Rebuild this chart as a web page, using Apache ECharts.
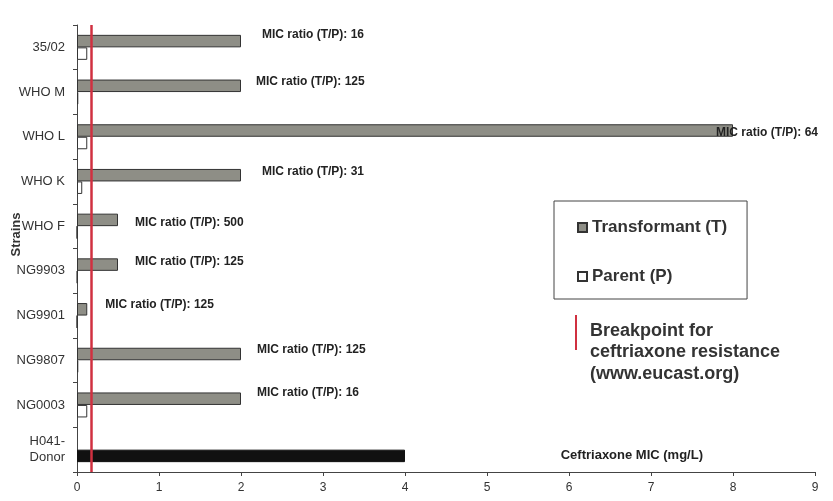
<!DOCTYPE html>
<html><head><meta charset="utf-8">
<script src="https://cdn.jsdelivr.net/npm/echarts@6/dist/echarts.min.js"></script>
<style>html,body{margin:0;padding:0;background:#fff}#c{width:833px;height:501px}</style>
</head><body><div id="c"></div>
<script>
const categories = ['35/02','WHO M','WHO L','WHO K','WHO F','NG9903','NG9901','NG9807','NG0003','H041-\nDonor'];
const transformant = [2, 2, 8, 2, 0.5, 0.5, 0.125, 2, 2, null];
const parent = [0.125, 0.016, 0.125, 0.064, 0.001, 0.004, 0.001, 0.016, 0.125, 4];
const ratios = ['16','125','64','31','500','125','125','125','16', null];
const breakpoint = 0.17;
const xMin = 0, xMax = 9, xStep = 1;

const labelTweaks = [
  {d:21,o:-6},{d:15,o:-4},{d:-17,o:2},{d:21,o:-4},{d:17,o:3},
  {d:17,o:-3},{d:18,o:-5},{d:16,o:-4},{d:16,o:-6},{d:0,o:0}
];
const tData = transformant.map((v,i)=>{
  if (v == null) return '-';
  return {value:v, label:{show:true, position:'right', distance:labelTweaks[i].d, offset:[0,labelTweaks[i].o],
    formatter:'MIC ratio (T/P): '+ratios[i]}};
});
const pData = parent.map((v,i)=> i===categories.length-1 ? {value:v, itemStyle:{color:'#111', borderColor:'#111'}} : v);

const chart = echarts.init(document.getElementById('c'));
chart.setOption({
  animation:false,
  textStyle:{fontFamily:'Liberation Sans, Arial, sans-serif'},
  grid:{left:77, right:18, top:25, bottom:29, outerBoundsMode:'none', containLabel:false},
  legend:{
    orient:'vertical', left:554, top:201,
    padding:[18,20,14,23], itemGap:32, itemWidth:9, itemHeight:9, icon:'rect',
    borderColor:'#444', borderWidth:1,
    textStyle:{fontSize:17, fontWeight:'bold', color:'#333'},
    data:['Transformant (T)','Parent (P)']
  },
  xAxis:{
    type:'value', min:xMin, max:xMax, interval:xStep,
    splitLine:{show:false},
    axisLine:{show:true, lineStyle:{color:'#444'}},
    axisTick:{show:true, length:4, lineStyle:{color:'#444'}},
    axisLabel:{color:'#333', fontSize:12, margin:10},
    name:'Ceftriaxone MIC (mg/L)', nameLocation:'end', nameGap:-112,
    nameTextStyle:{align:'right', verticalAlign:'bottom', padding:[0,0,10,0], fontSize:13, fontWeight:'bold', color:'#222'}
  },
  yAxis:{
    type:'category', data:categories, inverse:true,
    axisLine:{show:true, lineStyle:{color:'#444'}},
    axisTick:{show:true, length:4, lineStyle:{color:'#444'}},
    axisLabel:{color:'#333', fontSize:13, margin:12, lineHeight:16},
    name:'Strains', nameLocation:'middle', nameGap:54, nameRotate:90, nameMoveOverlap:false,
    nameTextStyle:{fontSize:13, fontWeight:'bold', color:'#333', padding:[0,0,0,28]}
  },
  series:[
    {name:'Transformant (T)', type:'bar', data:tData, barWidth:12.5, barGap:'0%',
     itemStyle:{color:'#8e8e86', borderColor:'#333', borderWidth:1},
     label:{color:'#222', fontSize:12, fontWeight:'bold'},
     markLine:{silent:true, symbol:'none', label:{show:false},
       lineStyle:{color:'#d03040', width:2.5, type:'solid'},
       data:[{xAxis:breakpoint}]}
    },
    {name:'Parent (P)', type:'bar', data:pData, barWidth:12.5, barGap:'0%',
     itemStyle:{color:'#fff', borderColor:'#333', borderWidth:1}}
  ],
  graphic:[
    {type:'line', shape:{x1:576, y1:315, x2:576, y2:350}, style:{stroke:'#d03040', lineWidth:2}},
    {type:'text', left:590, top:320, style:{text:'Breakpoint for\nceftriaxone resistance\n(www.eucast.org)',
      fontSize:18, fontWeight:'bold', fill:'#333', lineHeight:21.5, fontFamily:'Liberation Sans, Arial, sans-serif'}}
  ]
});
</script></body></html>
